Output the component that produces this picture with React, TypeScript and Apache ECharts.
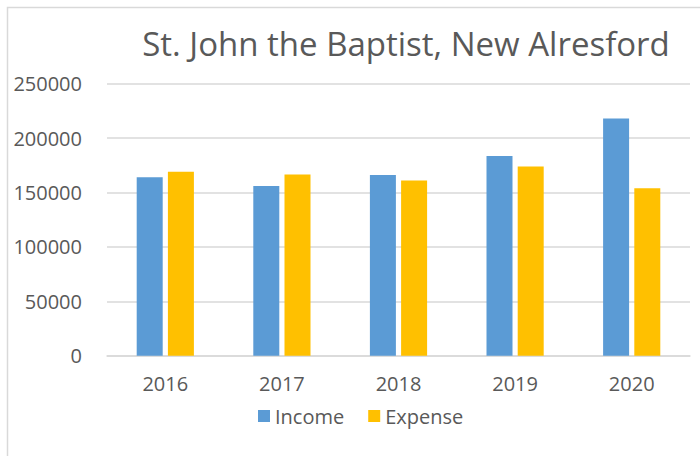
import React, { useEffect, useRef } from "react";
import * as echarts from "echarts";

const years = ["2016", "2017", "2018", "2019", "2020"];
const income = [164000, 156000, 166000, 183500, 218000];
const expense = [169000, 166500, 161000, 174000, 154000];
const titleText = "St. John the Baptist, New Alresford";

export default function App() {
  const ref = useRef<HTMLDivElement>(null);
  useEffect(() => {
    const chart = echarts.init(ref.current!, null, { renderer: "svg" });
    const font = "'Open Sans', sans-serif";
    chart.setOption({
      animation: false,
      backgroundColor: "#ffffff",
      title: {
        text: titleText,
        left: 401,
        top: 22,
        textAlign: "center",
        textStyle: { fontFamily: font, fontSize: 33, fontWeight: "normal", color: "#595959" },
      },
      graphic: [
        {
          type: "rect",
          shape: { x: 7.5, y: 7.5, width: 720, height: 470 },
          style: { fill: "none", stroke: "#d9d9d9", lineWidth: 1.5 },
          silent: true,
        },
      ],
      legend: {
        data: ["Income", "Expense"],
        left: 253,
        top: 401,
        itemWidth: 12,
        itemHeight: 12,
        itemGap: 24,
        icon: "rect",
        textStyle: { fontFamily: font, fontSize: 20, color: "#595959" },
      },
      grid: { left: 107, right: 10, top: 83.7, bottom: 100.3, containLabel: false },
      xAxis: {
        type: "category",
        data: years,
        axisLine: { show: true, lineStyle: { color: "#d9d9d9", width: 1.5 } },
        axisTick: { show: false },
        axisLabel: { fontFamily: font, fontSize: 20, color: "#595959", margin: 18 },
      },
      yAxis: {
        type: "value",
        min: 0,
        max: 250000,
        interval: 50000,
        axisLine: { show: false },
        axisTick: { show: false },
        splitLine: { lineStyle: { color: "#d9d9d9", width: 1.5 } },
        axisLabel: {
          fontFamily: font,
          fontSize: 20,
          color: "#595959",
          margin: 25,
          formatter: (v: number) => String(v),
        },
      },
      series: [
        {
          name: "Income",
          type: "bar",
          data: income,
          barWidth: 26,
          barGap: "20%",
          itemStyle: { color: "#5b9bd5" },
        },
        {
          name: "Expense",
          type: "bar",
          data: expense,
          barWidth: 26,
          itemStyle: { color: "#ffc000" },
        },
      ],
    });
    return () => chart.dispose();
  }, []);
  return (
    <div
      ref={ref}
      style={{ position: "absolute", left: 0, top: 0, width: 700, height: 456 }}
    />
  );
}
